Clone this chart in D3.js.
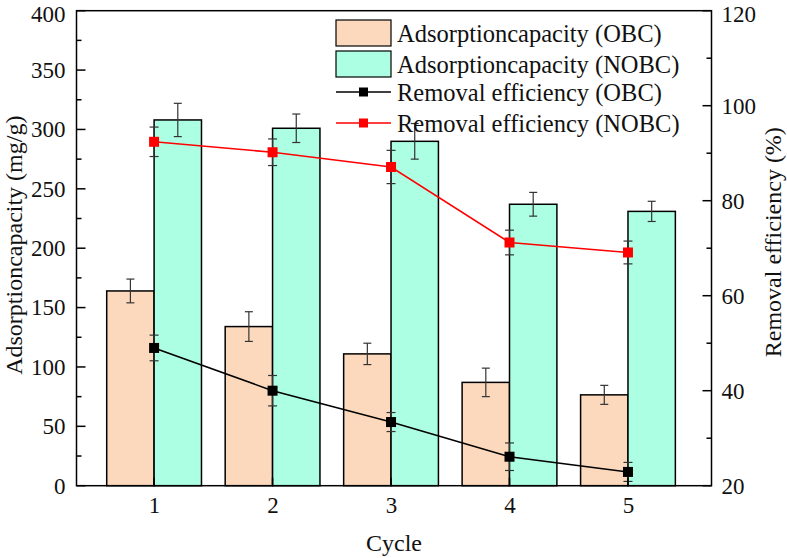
<!DOCTYPE html>
<html><head><meta charset="utf-8">
<script src="https://cdn.jsdelivr.net/npm/d3@7"></script>
<style>body{margin:0;background:#fff}svg{display:block}</style>
</head><body><svg id="c" width="787" height="558"></svg>
<script>
const cycles = [1, 2, 3, 4, 5];
const capOBC = [164, 134, 111, 87, 76.5];
const capOBCErr = [10, 12.5, 9, 12, 8];
const capNOBC = [308, 301, 290, 237, 231];
const capNOBCErr = [14, 12, 15, 10, 8.5];
const effOBC = [49.0, 40.0, 33.4, 26.1, 22.9];
const effOBCErr = [2.7, 3.2, 2.0, 2.9, 2.0];
const effNOBC = [92.4, 90.2, 87.1, 71.2, 69.1];
const effNOBCErr = [3.1, 2.8, 3.5, 2.6, 2.4];
const leftTicks = [0, 50, 100, 150, 200, 250, 300, 350, 400];
const rightTicks = [20, 40, 60, 80, 100, 120];
const legendLabels = ["Adsorptioncapacity (OBC)", "Adsorptioncapacity (NOBC)", "Removal efficiency (OBC)", "Removal efficiency (NOBC)"];
const colOBC = "#fcd9bd", colNOBC = "#adffe3";
const FONT = '"Liberation Serif", "Times New Roman", serif';

const svg = d3.select("#c");
const L = 76.5, R = 711.5, T = 10.7, B = 485.7;
const x = d3.scaleLinear().domain([0.345, 5.705]).range([L, R]);
const yL = d3.scaleLinear().domain([0, 400]).range([B, T]);
const yR = d3.scaleLinear().domain([20, 120]).range([B, T]);
const bw = x(1.4) - x(1);
const errCol = "#333";

// bars
const g = svg.append("g");
g.selectAll(".bo").data(cycles).join("rect")
  .attr("x", (d) => x(d) - bw).attr("width", bw)
  .attr("y", (d, i) => yL(capOBC[i])).attr("height", (d, i) => B - yL(capOBC[i]))
  .attr("fill", colOBC).attr("stroke", "#000").attr("stroke-width", 1.5);
g.selectAll(".bn").data(cycles).join("rect")
  .attr("x", (d) => x(d)).attr("width", bw)
  .attr("y", (d, i) => yL(capNOBC[i])).attr("height", (d, i) => B - yL(capNOBC[i]))
  .attr("fill", colNOBC).attr("stroke", "#000").attr("stroke-width", 1.5);

function errBars(cx, vals, errs, ys, cap) {
  const eg = svg.append("g").attr("stroke", errCol).attr("stroke-width", 1.2);
  cycles.forEach((c, i) => {
    const xc = cx(c), y1 = ys(vals[i] + errs[i]), y2 = ys(vals[i] - errs[i]);
    eg.append("line").attr("x1", xc).attr("x2", xc).attr("y1", y1).attr("y2", y2);
    eg.append("line").attr("x1", xc - cap).attr("x2", xc + cap).attr("y1", y1).attr("y2", y1);
    eg.append("line").attr("x1", xc - cap).attr("x2", xc + cap).attr("y1", y2).attr("y2", y2);
  });
}
errBars((c) => x(c) - bw / 2, capOBC, capOBCErr, yL, 4);
errBars((c) => x(c) + bw / 2, capNOBC, capNOBCErr, yL, 4);

// lines
function series(vals, errs, col) {
  errBars((c) => x(c), vals, errs, yR, 4.5);
  const line = d3.line().x((d, i) => x(cycles[i])).y((d) => yR(d));
  svg.append("path").datum(vals).attr("d", line).attr("fill", "none").attr("stroke", col).attr("stroke-width", 1.6);
  svg.selectAll(null).data(vals).join("rect")
    .attr("x", (d, i) => x(cycles[i]) - 5).attr("y", (d) => yR(d) - 5)
    .attr("width", 10).attr("height", 10).attr("fill", col);
}
series(effOBC, effOBCErr, "#000");
series(effNOBC, effNOBCErr, "#f00");

// axes frame
const ax = svg.append("g").attr("stroke", "#000").attr("stroke-width", 1.5).attr("fill", "none");
ax.append("rect").attr("x", L).attr("y", T).attr("width", R - L).attr("height", B - T);

function styleText(sel, size) {
  sel.attr("font-family", null).style("font-family", FONT).style("font-size", size + "px").style("fill", "#111");
}
const yAxisL = d3.axisLeft(yL).tickValues(leftTicks).tickSize(0).tickPadding(11);
const gl = svg.append("g").attr("transform", `translate(${L},0)`).call(yAxisL).attr("font-family", null);
gl.select(".domain").remove();
styleText(gl.selectAll("text"), 23);
// keep the topmost label inside the picture
gl.selectAll(".tick").filter((d) => d === 400).select("text").attr("dy", "0.46em");
d3.range(0, 401, 25).forEach((v) => {
  const len = v % 50 === 0 ? 9 : 5;
  ax.append("line").attr("x1", L).attr("x2", L + len).attr("y1", yL(v)).attr("y2", yL(v));
});
const yAxisR = d3.axisRight(yR).tickValues(rightTicks).tickSize(0).tickPadding(10);
const gr = svg.append("g").attr("transform", `translate(${R},0)`).call(yAxisR).attr("font-family", null);
gr.select(".domain").remove();
styleText(gr.selectAll("text"), 23);
gr.selectAll(".tick").filter((d) => d === 120).select("text").attr("dy", "0.46em");
d3.range(20, 121, 10).forEach((v) => {
  const len = v % 20 === 0 ? 9 : 5;
  ax.append("line").attr("x1", R).attr("x2", R - len).attr("y1", yR(v)).attr("y2", yR(v));
});
const xAxis = d3.axisBottom(x).tickValues(cycles).tickFormat(d3.format("d")).tickSize(0).tickPadding(11);
const gx = svg.append("g").attr("transform", `translate(0,${B})`).call(xAxis).attr("font-family", null);
gx.select(".domain").remove();
styleText(gx.selectAll("text"), 23);
cycles.forEach((c) => ax.append("line").attr("x1", x(c)).attr("x2", x(c)).attr("y1", B).attr("y2", B - 8));

styleText(svg.append("text").attr("x", (L + R) / 2).attr("y", 551).attr("text-anchor", "middle").text("Cycle"), 24);
styleText(svg.append("text").attr("transform", `translate(22,${(T + B) / 2 - 3}) rotate(-90)`).attr("text-anchor", "middle").text("Adsorptioncapacity (mg/g)"), 24);
styleText(svg.append("text").attr("transform", `translate(781,${(T + B) / 2 - 6}) rotate(-90)`).attr("text-anchor", "middle").text("Removal efficiency (%)"), 24);

// legend
const lg = svg.append("g");
const rows = [33, 64, 92, 123];
lg.append("rect").attr("x", 336).attr("y", 20).attr("width", 55).attr("height", 26).attr("fill", colOBC).attr("stroke", "#000").attr("stroke-width", 1.2);
lg.append("rect").attr("x", 336).attr("y", 51).attr("width", 55).attr("height", 26).attr("fill", colNOBC).attr("stroke", "#000").attr("stroke-width", 1.2);
[["#000", 2], ["#f00", 3]].forEach(([c, i]) => {
  lg.append("line").attr("x1", 336).attr("x2", 391).attr("y1", rows[i]).attr("y2", rows[i]).attr("stroke", c).attr("stroke-width", 1.6);
  lg.append("rect").attr("x", 363.5 - 4.5).attr("y", rows[i] - 4.5).attr("width", 9).attr("height", 9).attr("fill", c);
});
legendLabels.forEach((t, i) => {
  styleText(lg.append("text").attr("x", 397).attr("y", rows[i]).attr("dy", "0.35em").text(t), 24.5);
});
</script></body></html>
